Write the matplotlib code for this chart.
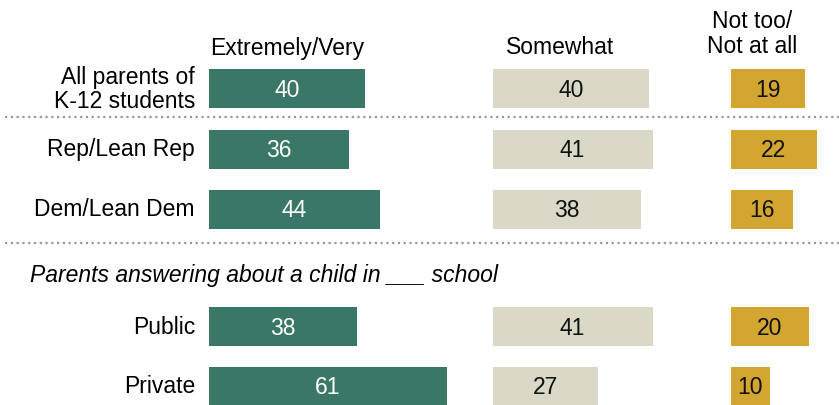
import matplotlib.pyplot as plt

plt.rcParams['font.family'] = ['Liberation Sans', 'DejaVu Sans']

groups = ["All parents of\nK-12 students", "Rep/Lean Rep", "Dem/Lean Dem", "Public", "Private"]
very = [40, 36, 44, 38, 61]
somewhat = [40, 41, 38, 41, 27]
not_too = [19, 22, 16, 20, 10]
headers = ["Extremely/Very", "Somewhat", "Not too/\nNot at all"]
subhead = "Parents answering about a child in ___ school"

colors = ["#3a7767", "#dad8c7", "#d3a632"]
text_colors = ["white", "#111111", "#111111"]

W, H = 839, 406
PX = 3.9  # pixels per percentage point
FS = 16.5

fig = plt.figure(figsize=(W / 100, H / 100), dpi=100)
ax = fig.add_axes([0, 0, 1, 1])
ax.set_xlim(0, W / PX)
ax.set_ylim(H, 0)
ax.axis("off")

row_y = [89.5, 150, 210, 327.5, 387]
col_left = [208.7 / PX, 492.7 / PX, 730.7 / PX]
bar_h = 39

for ci, vals in enumerate([very, somewhat, not_too]):
    left = col_left[ci]
    ax.barh(row_y, vals, left=left, height=bar_h, color=colors[ci])
    for y, v in zip(row_y, vals):
        ax.text(left + v / 2, y + 1, str(v), ha="center", va="center",
                fontsize=FS, color=text_colors[ci])

# column headers
ax.text(col_left[0] + 20, 48, headers[0], ha="center", va="center", fontsize=FS)
ax.text(col_left[1] + 17.4, 48, headers[1], ha="center", va="center", fontsize=FS)
ax.text(col_left[2] + 5.5, 34, headers[2], ha="center", va="center",
        fontsize=FS, linespacing=1.12)

# row labels
for y, g in zip(row_y, groups):
    ax.text(195 / PX, y, g, ha="right", va="center", fontsize=FS, linespacing=1.1)

ax.text(30 / PX, 276, subhead, ha="left", va="center", fontsize=FS, style="italic")

# dotted separators
for y in [117.5, 244]:
    ax.plot([5 / PX, W / PX], [y, y], color="#999999", lw=1.6,
            linestyle=(0, (1, 1.6)))

fig.savefig("out.png", dpi=100)
